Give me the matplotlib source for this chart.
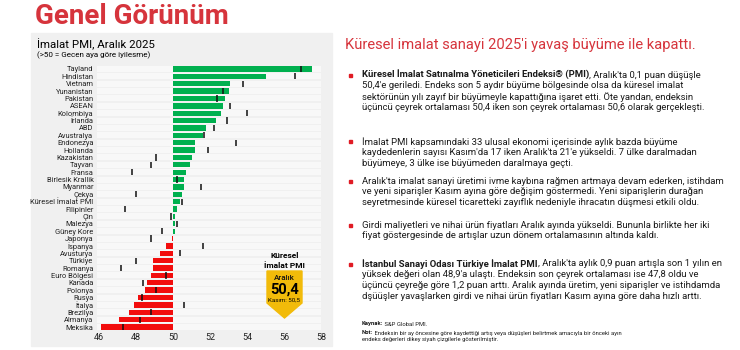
import matplotlib
matplotlib.use('Agg')
import matplotlib.pyplot as plt
from matplotlib.patches import Rectangle, Polygon

plt.rcParams['font.family'] = ['Roboto', 'DejaVu Sans']

# data
countries = ['Tayland', 'Hindistan', 'Vietnam', 'Yunanistan', 'Pakistan', 'ASEAN', 'Kolombiya',
             'İrlanda', 'ABD', 'Avustralya', 'Endonezya', 'Hollanda', 'Kazakistan', 'Tayvan',
             'Fransa', 'Birlesik Krallik', 'Myanmar', 'Çekya', 'Küresel İmalat PMI', 'Filipinler',
             'Çin', 'Malezya', 'Güney Kore', 'Japonya', 'İspanya', 'Avusturya', 'Türkiye',
             'Romanya', 'Euro Bölgesi', 'Kanada', 'Polonya', 'Rusya', 'İtalya', 'Brezilya',
             'Almanya', 'Meksika']
pmi_dec = [57.5, 55.0, 53.1, 53.0, 52.8, 52.7, 52.6, 52.3, 51.8, 51.6, 51.2, 51.2, 51.0, 50.9,
           50.7, 50.6, 50.6, 50.5, 50.4, 50.2, 50.1, 50.1, 50.1, 49.97, 49.6, 49.3, 48.9,
           48.9, 48.8, 48.6, 48.5, 48.1, 47.9, 47.6, 47.1, 46.1]
pmi_nov = [56.9, 56.6, 53.8, 52.7, 52.4, 53.1, 54.0, 52.9, 52.2, 51.7, 53.4, 51.9, 49.1, 48.8,
           47.8, 50.2, 51.5, 48.0, 50.5, 47.4, 49.9, 50.2, 49.4, 48.8, 51.6, 50.4, 48.0,
           47.2, 49.6, 48.4, 49.1, 48.3, 50.6, 48.8, 48.2, 47.3]
xticks = [46, 48, 50, 52, 54, 56, 58]

W, H = 740, 350
RED_T = '#d6343c'


def fx(x):
    return x / W


def fy(y):
    return 1 - y / H


fig = plt.figure(figsize=(7.4, 3.5), dpi=100)
fig.patch.set_facecolor('white')

# gray panel
fig.patches.append(Rectangle((fx(31), fy(346)), fx(332) - fx(31), fy(33) - fy(346),
                             transform=fig.transFigure, color='#f0f0f0', zorder=-10))

fig.text(fx(35), fy(16), 'Genel Görünüm', fontsize=20, fontweight='bold', color=RED_T,
         va='center', ha='left')
fig.text(fx(37), fy(44), 'İmalat PMI, Aralık 2025', fontsize=8.2, va='center')
fig.text(fx(37), fy(55), '(>50 = Gecen aya göre iyilesme)', fontsize=5.8, va='center')

ax = fig.add_axes([fx(99), fy(330.7), fx(321) - fx(99), fy(65.3) - fy(330.7)])
ax.set_facecolor('none')
n = len(countries)
ypos = list(range(n))
ax.barh(ypos, [12.1] * n, left=45.9, height=0.82, color='#f8f8f8', zorder=1, clip_on=False)
colors = ['#00b04f' if v >= 50 else '#f20d0d' for v in pmi_dec]
ax.barh(ypos, [v - 50 for v in pmi_dec], left=50, height=0.72, color=colors, zorder=2)
ax.vlines(pmi_nov, [y - 0.42 for y in ypos], [y + 0.42 for y in ypos], color='#111111',
          linewidth=1.1, zorder=3)
ax.set_xlim(46, 58)
ax.set_ylim(n - 0.5, -0.5)
ax.set_yticks(ypos)
ax.set_yticklabels(countries, fontsize=5.4, color='#222222')
ax.set_xticks(xticks)
ax.set_xticklabels([str(t) for t in xticks], fontsize=6.5, color='#222222')
ax.tick_params(length=0, axis='y', pad=4)
ax.tick_params(length=0, axis='x', pad=2)
for s in ax.spines.values():
    s.set_visible(False)

# callout
fig.text(fx(284.5), fy(256), 'Küresel', fontsize=6, fontweight='bold', ha='center', va='center')
fig.text(fx(284.5), fy(266), 'İmalat PMI', fontsize=6, fontweight='bold', ha='center', va='center')
fig.patches.append(Polygon([(fx(267), fy(271)), (fx(302), fy(271)), (fx(302), fy(303)),
                            (fx(284.5), fy(318)), (fx(267), fy(303))],
                           closed=True, transform=fig.transFigure, color='#f2bb0a', zorder=1))
fig.text(fx(284.5), fy(277.5), 'Aralık', fontsize=5.8, fontweight='medium', color='#111111',
         ha='center', va='center', zorder=5)
fig.text(fx(284.5), fy(290), '50,4', fontsize=10.5, fontweight='bold', ha='center', va='center',
         zorder=5)
fig.text(fx(284.5), fy(300), 'Kasım: 50,5', fontsize=4.4, ha='center', va='center', zorder=5)

# right side text
fig.text(fx(345), fy(45), "Küresel imalat sanayi 2025'i yavaş büyüme ile kapattı.",
         fontsize=10.6, color=RED_T, va='center')

renderer = fig.canvas.get_renderer()


def rich_line(x, y, parts, size):
    for txt, bold in parts:
        t = fig.text(fx(x), fy(y), txt, fontsize=size, va='center',
                     fontweight='bold' if bold else 'normal', color='#1a1a1a')
        x = t.get_window_extent(renderer).x1


bullets = [
    (75, [[("Küresel İmalat Satınalma Yöneticileri Endeksi® (PMI)", True),
           (", Aralık'ta 0,1 puan düşüşle", False)],
          [("50,4'e geriledi. Endeks son 5 aydır büyüme bölgesinde olsa da küresel imalat", False)],
          [("sektörünün yılı zayıf bir büyümeyle kapattığına işaret etti. Öte yandan, endeksin", False)],
          [("üçüncü çeyrek ortalaması 50,4 iken son çeyrek ortalaması 50,6 olarak gerçekleşti.", False)]]),
    (142, [[("İmalat PMI kapsamındaki 33 ulusal ekonomi içerisinde aylık bazda büyüme", False)],
           [("kaydedenlerin sayısı Kasım'da 17 iken Aralık'ta 21'e yükseldi. 7 ülke daralmadan", False)],
           [("büyümeye, 3 ülke ise büyümeden daralmaya geçti.", False)]]),
    (181, [[("Aralık'ta imalat sanayi üretimi ivme kaybına rağmen artmaya devam ederken, istihdam", False)],
           [("ve yeni siparişler Kasım ayına göre değişim göstermedi. Yeni siparişlerin durağan", False)],
           [("seyretmesinde küresel ticaretteki zayıflık nedeniyle ihracatın düşmesi etkili oldu.", False)]]),
    (225, [[("Girdi maliyetleri ve nihai ürün fiyatları Aralık ayında yükseldi. Bununla birlikte her iki", False)],
           [("fiyat göstergesinde de artışlar uzun dönem ortalamasının altında kaldı.", False)]]),
    (264, [[("İstanbul Sanayi Odası Türkiye İmalat PMI", True),
            (", Aralık'ta aylık 0,9 puan artışla son 1 yılın en", False)],
           [("yüksek değeri olan 48,9'a ulaştı. Endeksin son çeyrek ortalaması ise 47,8 oldu ve", False)],
           [("üçüncü çeyreğe göre 1,2 puan arttı. Aralık ayında üretim, yeni siparişler ve istihdamda", False)],
           [("dşüüşler yavaşlarken girdi ve nihai ürün fiyatları Kasım ayına göre daha hızlı arttı.", False)]]),
]
for y0, lines in bullets:
    fig.patches.append(Rectangle((fx(348.5), fy(y0 + 1.5)), 3 / W, 3 / H,
                                 transform=fig.transFigure, color='#e01b24'))
    for i, parts in enumerate(lines):
        rich_line(362, y0 + i * 10.9, parts, 6.8)

rich_line(362, 324, [("Kaynak:", True), (" S&P Global PMI.", False)], 4.2)
rich_line(362, 333, [("Not:", True), (" Endeksin bir ay öncesine göre kaydettiği artış veya düşüşleri "
                                       "belirtmek amacıyla bir önceki ayın", False)], 4.2)
rich_line(362, 340, [("endeks değerleri dikey siyah çizgilerle gösterilmiştir.", False)], 4.2)

fig.savefig('out.png', dpi=100)
